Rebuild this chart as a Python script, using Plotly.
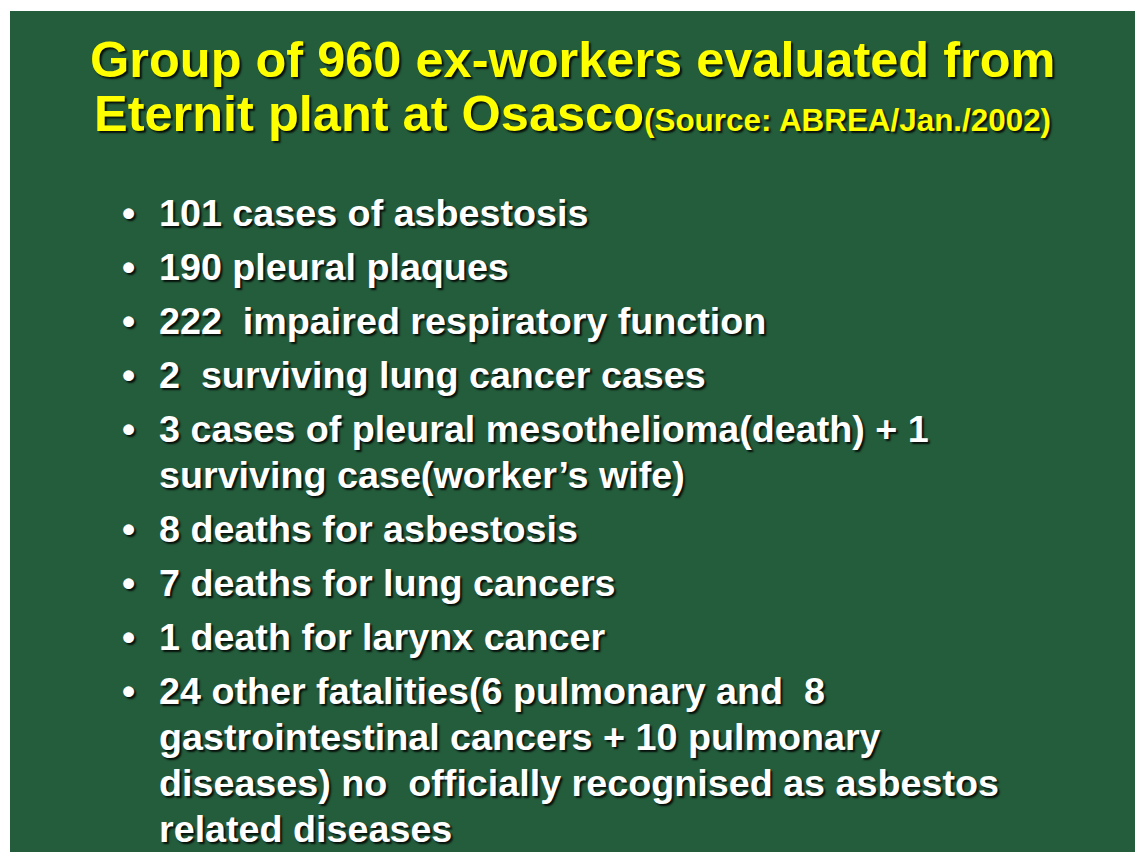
import plotly.graph_objects as go

# ---- content ----
title_line1 = "Group of 960 ex-workers evaluated from"
title_line2 = "Eternit plant at Osasco"
title_source = "(Source: ABREA/Jan./2002)"

bullet_items = [
    ["101 cases of asbestosis"],
    ["190 pleural plaques"],
    ["222\u00a0 impaired respiratory function"],
    ["2\u00a0 surviving lung cancer cases"],
    ["3 cases of pleural mesothelioma(death) + 1", "surviving case(worker\u2019s wife)"],
    ["8 deaths for asbestosis"],
    ["7 deaths for lung cancers"],
    ["1 death for larynx cancer"],
    ["24 other fatalities(6 pulmonary and\u00a0 8",
     "gastrointestinal cancers + 10 pulmonary",
     "diseases) no\u00a0 officially recognised as asbestos",
     "related diseases"],
]

# ---- style / layout constants ----
W, H = 1135, 852
ML, MT = 10, 11           # white border left / top
BG = "rgb(36,93,60)"
YELLOW = "#ffff00"
WHITE = "#ffffff"
FONT = "Liberation Sans, Arial, sans-serif"
TITLE_SIZE = 50.5
SOURCE_SIZE = 31.4
BULLET_SIZE = 37.7
SHADOW = "2px 2px 2px rgba(0,0,0,0.85)"

title_cx = 572
title_y = [59, 113]
first_y = 213
bullet_pitch = 54
wrap_pitch = 46
bullet_x = 128
text_x = 157

fig = go.Figure()
fig.add_trace(go.Scatter(x=[ML, W], y=[MT, H], mode="markers",
                         marker=dict(opacity=0), hoverinfo="skip", showlegend=False))

tfont = dict(family=FONT, size=TITLE_SIZE, color=YELLOW, weight="bold", shadow=SHADOW)
bfont = dict(family=FONT, size=BULLET_SIZE, color=WHITE, weight="bold", shadow=SHADOW)

anns = [
    dict(x=title_cx, y=title_y[0], text=title_line1, xanchor="center", yanchor="middle", font=tfont),
    dict(x=title_cx, y=title_y[1],
         text=title_line2 + f"<span style='font-size:{SOURCE_SIZE}px'>{title_source}</span>",
         xanchor="center", yanchor="middle", font=tfont),
]

y = first_y
for item in bullet_items:
    anns.append(dict(x=bullet_x, y=y, text="\u2022", xanchor="center", yanchor="middle", font=bfont))
    for i, line in enumerate(item):
        if i > 0:
            y += wrap_pitch
        anns.append(dict(x=text_x, y=y, text=line, xanchor="left", yanchor="middle", font=bfont))
    y += bullet_pitch

for a in anns:
    a.update(xref="x", yref="y", showarrow=False)

fig.update_layout(
    width=W, height=H,
    margin=dict(l=ML, r=0, t=MT, b=0),
    paper_bgcolor="white",
    plot_bgcolor=BG,
    xaxis=dict(range=[ML, W], visible=False, fixedrange=True),
    yaxis=dict(range=[H, MT], visible=False, fixedrange=True),
    annotations=anns,
    showlegend=False,
)

fig.write_html(
    "out.html",
    config={"displayModeBar": False},
    post_script="document.documentElement.style.overflow='hidden';"
                "document.body.style.margin='0';document.body.style.overflow='hidden';",
)
